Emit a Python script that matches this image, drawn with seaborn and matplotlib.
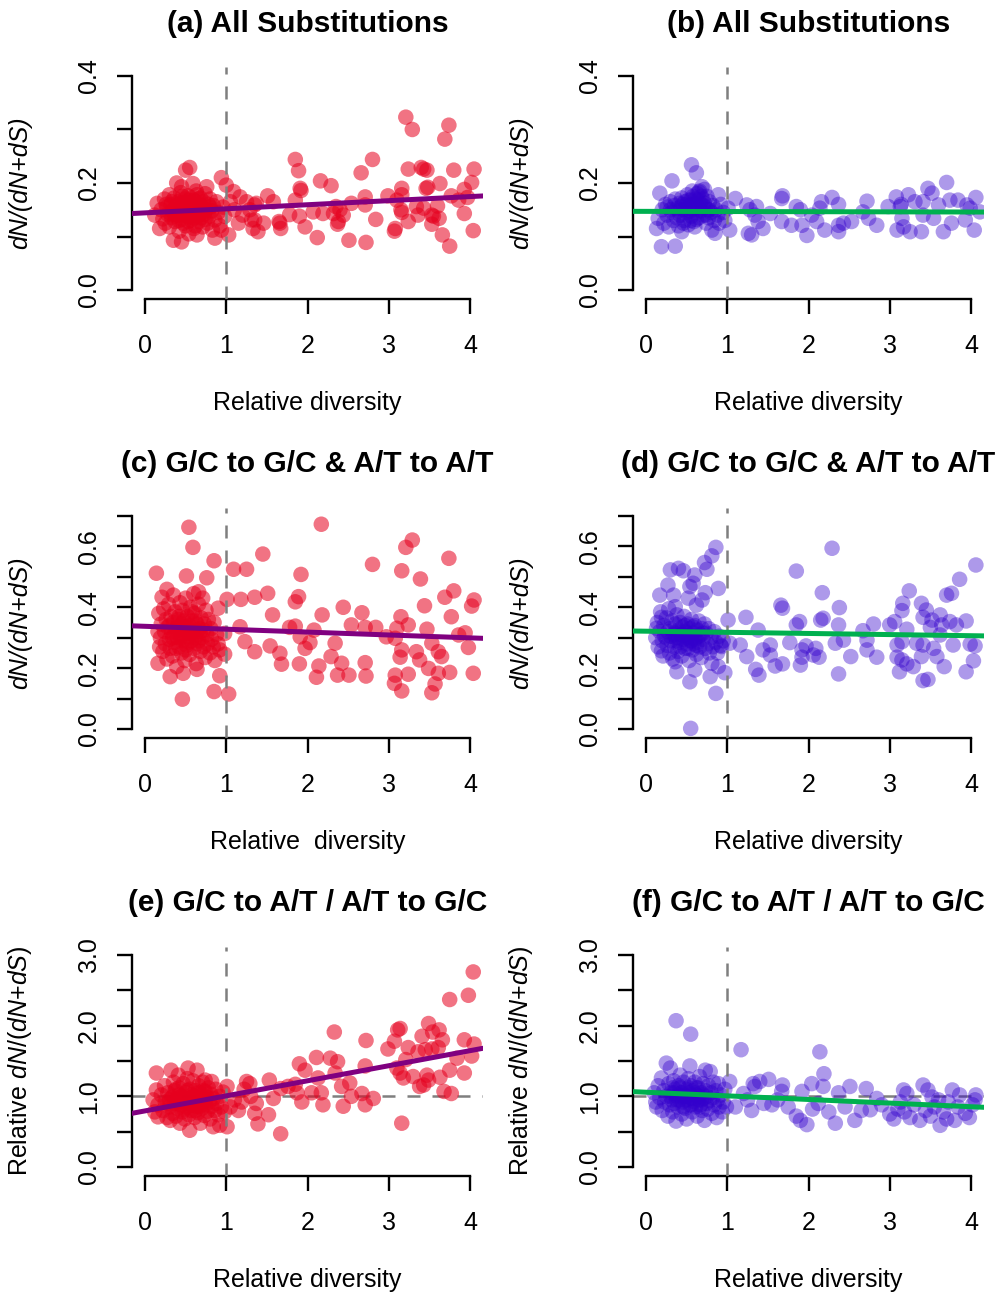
import matplotlib
matplotlib.use("Agg")
import matplotlib.pyplot as plt
import numpy as np
import pandas as pd
import seaborn as sns

sns.set_style("ticks")
plt.rcParams['font.family'] = ['Liberation Sans', 'DejaVu Sans']
plt.rcParams['mathtext.fontset'] = 'custom'
plt.rcParams['mathtext.rm'] = 'Liberation Sans'
plt.rcParams['mathtext.it'] = 'Liberation Sans:italic'
plt.rcParams['text.color'] = 'black'
plt.rcParams['axes.labelcolor'] = 'black'

# ---------------- data ----------------
titles = ["(a) All Substitutions", "(b) All Substitutions",
          "(c) G/C to G/C & A/T to A/T", "(d) G/C to G/C & A/T to A/T",
          "(e) G/C to A/T / A/T to G/C", "(f) G/C to A/T / A/T to G/C"]
xlabels = ["Relative diversity", "Relative diversity",
           "Relative  diversity", "Relative diversity",
           "Relative diversity", "Relative diversity"]
ylabels = ["dN/(dN+dS)", "dN/(dN+dS)", "dN/(dN+dS)", "dN/(dN+dS)",
           "Relative $\\mathit{dN/(dN{+}dS)}$", "Relative $\\mathit{dN/(dN{+}dS)}$"]
x_ticks = [0, 1, 2, 3, 4]
y_ticks_ab = [0.0, 0.1, 0.2, 0.3, 0.4]
y_labels_ab = ["0.0", "", "0.2", "", "0.4"]
y_ticks_cd = [0.0, 0.1, 0.2, 0.3, 0.4, 0.5, 0.6, 0.7]
y_labels_cd = ["0.0", "", "0.2", "", "0.4", "", "0.6", ""]
y_ticks_ef = [0.0, 0.5, 1.0, 1.5, 2.0, 2.5, 3.0]
y_labels_ef = ["0.0", "", "1.0", "", "2.0", "", "3.0"]
fit_intercepts = [0.1442, 0.147, 0.3375, 0.3214, 0.794, 1.058]
fit_slopes = [0.0076, -0.0003, -0.0095, -0.0037, 0.213, -0.0512]

a_pts = [
 (3.21,0.323),(3.29,0.300),(3.74,0.308),(3.69,0.282),(1.85,0.244),(1.89,0.223),(2.80,0.244),(2.66,0.219),
 (2.16,0.204),(2.29,0.195),(3.24,0.226),(3.40,0.229),(3.47,0.224),(3.43,0.226),(3.80,0.224),(4.05,0.226),
 (4.02,0.201),(3.63,0.199),(3.48,0.192),(3.46,0.190),(3.16,0.190),(3.93,0.188),(1.92,0.186),(1.91,0.190),
 (1.51,0.176),(1.58,0.165),(1.85,0.168),(1.37,0.162),(2.71,0.174),(2.71,0.159),(2.54,0.162),(2.99,0.176),
 (3.10,0.168),(3.16,0.178),(3.77,0.176),(3.86,0.168),(3.97,0.173),(2.35,0.156),(2.40,0.150),(2.07,0.146),
 (2.19,0.143),(2.44,0.140),(1.78,0.141),(1.90,0.138),(1.66,0.125),(1.65,0.128),(1.67,0.115),(1.39,0.109),
 (1.46,0.125),(1.97,0.118),(2.37,0.123),(2.38,0.128),(2.84,0.132),(3.15,0.150),(3.16,0.145),(3.34,0.156),
 (3.43,0.153),(3.60,0.157),(3.36,0.140),(3.53,0.140),(3.55,0.138),(3.62,0.134),(3.93,0.143),(3.24,0.128),
 (3.53,0.123),(3.08,0.115),(3.07,0.110),(2.12,0.098),(2.51,0.093),(2.72,0.089),(3.66,0.103),(3.75,0.082),
 (4.04,0.111),(1.29,0.150),(1.31,0.131),(2.32,0.143),
 (1.00,0.196),(1.03,0.103),(1.09,0.184),(1.17,0.174),(1.25,0.165),(1.35,0.159),(1.35,0.131),(1.33,0.115),
 (1.10,0.150),(1.20,0.140),(1.05,0.165),(1.15,0.125),
 (0.12,0.140),(0.15,0.162),(0.18,0.115),(0.20,0.150),(0.22,0.133),(0.24,0.170),(0.25,0.125),(0.27,0.155),
 (0.28,0.142),(0.30,0.178),(0.30,0.118),(0.32,0.160),(0.33,0.135),(0.34,0.148),(0.35,0.093),(0.36,0.172),
 (0.37,0.128),(0.38,0.156),(0.39,0.200),(0.40,0.140),(0.41,0.165),(0.42,0.110),(0.43,0.150),(0.44,0.182),
 (0.45,0.193),(0.45,0.090),(0.46,0.132),(0.47,0.158),(0.48,0.145),(0.49,0.170),(0.50,0.224),(0.50,0.120),
 (0.51,0.155),(0.52,0.138),(0.53,0.176),(0.54,0.105),(0.55,0.229),(0.55,0.150),(0.56,0.162),(0.57,0.130),
 (0.58,0.145),(0.59,0.199),(0.60,0.168),(0.60,0.115),(0.61,0.152),(0.62,0.140),(0.63,0.185),(0.64,0.103),
 (0.65,0.160),(0.66,0.128),(0.67,0.148),(0.68,0.172),(0.69,0.135),(0.70,0.155),(0.71,0.118),(0.72,0.165),
 (0.73,0.142),(0.74,0.180),(0.75,0.150),(0.76,0.193),(0.77,0.125),(0.78,0.160),(0.79,0.138),(0.80,0.170),
 (0.82,0.148),(0.83,0.112),(0.84,0.158),(0.86,0.131),(0.86,0.097),(0.88,0.165),(0.90,0.145),(0.92,0.120),
 (0.94,0.210),(0.94,0.112),(0.96,0.155),(0.98,0.138),
 (0.35,0.150),(0.40,0.160),(0.42,0.130),(0.48,0.165),(0.52,0.150),(0.58,0.158),(0.62,0.150),(0.65,0.140),
 (0.70,0.145),(0.38,0.138),(0.44,0.155),(0.56,0.142),(0.60,0.135),(0.66,0.170),(0.72,0.152),(0.30,0.145),
 (0.33,0.165),(0.46,0.175),(0.54,0.168),(0.64,0.178),(0.26,0.160),(0.50,0.140),(0.53,0.128),(0.57,0.172),
 (0.68,0.158),(0.74,0.132),(0.80,0.155),(0.36,0.142),(0.47,0.125),(0.62,0.120)]

b_pts = [
 (1.67,0.171),(1.68,0.176),(1.36,0.156),(1.28,0.150),(1.53,0.143),(1.38,0.128),(1.44,0.115),(1.67,0.128),
 (1.79,0.121),(1.85,0.156),(1.90,0.150),(1.92,0.121),(1.98,0.102),(2.04,0.140),(2.16,0.165),(2.29,0.173),
 (2.37,0.160),(2.14,0.153),(2.10,0.128),(2.20,0.112),(2.37,0.121),(2.43,0.125),(2.37,0.109),(2.53,0.128),
 (2.72,0.166),(2.67,0.146),(2.74,0.134),(2.84,0.121),(2.98,0.156),(3.08,0.174),(3.13,0.156),(3.14,0.160),
 (3.23,0.178),(3.31,0.165),(3.15,0.134),(3.09,0.112),(3.17,0.118),(3.25,0.109),(3.39,0.109),(3.41,0.165),
 (3.41,0.140),(3.47,0.190),(3.52,0.181),(3.54,0.134),(3.60,0.159),(3.70,0.201),(3.66,0.109),(3.74,0.168),
 (3.76,0.125),(3.84,0.168),(3.95,0.159),(3.99,0.153),(3.93,0.131),(4.06,0.173),(4.04,0.112),(4.11,0.146),
 (1.30,0.103),(1.10,0.171),(1.01,0.153),(1.03,0.112),(1.24,0.159),(1.26,0.106),(1.34,0.140),(0.89,0.178),
 (0.85,0.106),
 (0.13,0.115),(0.15,0.134),(0.17,0.181),(0.19,0.081),(0.20,0.150),(0.22,0.125),(0.24,0.160),(0.26,0.140),
 (0.28,0.118),(0.30,0.165),(0.32,0.204),(0.32,0.145),(0.34,0.130),(0.36,0.082),(0.36,0.170),(0.38,0.152),
 (0.40,0.120),(0.41,0.162),(0.42,0.140),(0.44,0.109),(0.44,0.172),(0.46,0.150),(0.47,0.130),(0.48,0.165),
 (0.50,0.145),(0.51,0.178),(0.52,0.122),(0.53,0.158),(0.55,0.168),(0.56,0.234),(0.56,0.138),(0.57,0.150),
 (0.58,0.175),(0.59,0.128),(0.60,0.118),(0.60,0.160),(0.62,0.219),(0.62,0.145),(0.63,0.180),(0.64,0.155),
 (0.65,0.135),(0.66,0.185),(0.67,0.162),(0.68,0.148),(0.69,0.193),(0.70,0.170),(0.71,0.140),(0.72,0.188),
 (0.73,0.155),(0.74,0.125),(0.75,0.175),(0.76,0.150),(0.77,0.135),(0.78,0.165),(0.80,0.145),(0.81,0.112),
 (0.82,0.158),(0.84,0.130),(0.86,0.150),(0.88,0.140),(0.90,0.125),(0.92,0.160),(0.95,0.145),(0.97,0.130),
 (0.35,0.158),(0.40,0.148),(0.45,0.160),(0.50,0.160),(0.54,0.148),(0.58,0.160),(0.61,0.170),(0.64,0.168),
 (0.66,0.150),(0.70,0.158),(0.48,0.150),(0.52,0.168),(0.43,0.155),(0.38,0.135),(0.46,0.125),(0.55,0.130),
 (0.62,0.132),(0.68,0.175),(0.72,0.162),(0.30,0.150),(0.26,0.155),(0.57,0.185),(0.65,0.183),(0.74,0.140),
 (0.78,0.150)]

c_pts = [
 (0.54,0.663),(0.59,0.597),(0.85,0.553),(0.14,0.512),(0.51,0.503),(0.76,0.497),(1.09,0.525),(1.25,0.525),
 (0.27,0.459),(0.21,0.433),(0.66,0.451),(1.01,0.426),(1.18,0.426),(1.35,0.433),(0.90,0.397),(0.16,0.320),
 (0.98,0.314),(1.17,0.336),(1.23,0.287),(1.35,0.254),(0.98,0.246),(0.18,0.270),(0.16,0.216),(0.31,0.172),
 (0.47,0.183),(0.64,0.196),(0.92,0.175),(0.85,0.123),(1.03,0.115),(0.46,0.098),
 (2.17,0.673),(1.45,0.575),(1.92,0.508),(2.80,0.541),(3.21,0.597),(3.29,0.621),(3.16,0.520),(3.39,0.493),
 (3.74,0.561),(1.51,0.446),(1.89,0.435),(1.85,0.418),(1.57,0.375),(2.18,0.375),(2.44,0.400),(2.67,0.382),
 (3.44,0.405),(3.69,0.433),(3.80,0.454),(4.05,0.424),(4.02,0.404),(3.77,0.369),(3.15,0.369),(3.24,0.342),
 (3.10,0.331),(2.54,0.342),(2.71,0.334),(2.84,0.334),(2.97,0.303),(3.08,0.298),(2.08,0.325),(1.78,0.334),
 (1.85,0.338),(1.91,0.303),(2.03,0.284),(1.97,0.265),(2.34,0.282),(2.29,0.238),(1.54,0.273),(1.66,0.249),
 (1.68,0.213),(1.90,0.214),(2.14,0.207),(2.11,0.170),(2.37,0.177),(2.42,0.216),(2.51,0.177),(2.71,0.218),
 (2.72,0.174),(3.16,0.260),(3.14,0.236),(3.34,0.254),(3.38,0.227),(3.47,0.328),(3.53,0.282),(3.61,0.254),
 (3.65,0.238),(3.49,0.199),(3.61,0.183),(3.75,0.186),(3.86,0.309),(3.94,0.316),(3.98,0.268),(4.04,0.183),
 (3.08,0.177),(3.07,0.150),(3.24,0.180),(3.16,0.125),(3.57,0.148),(3.53,0.119),
 (0.17,0.380),(0.19,0.300),(0.20,0.345),(0.22,0.255),(0.23,0.395),(0.24,0.320),(0.25,0.280),(0.26,0.360),
 (0.27,0.230),(0.28,0.335),(0.29,0.410),(0.30,0.295),(0.31,0.265),(0.32,0.370),(0.33,0.315),(0.34,0.240),
 (0.35,0.350),(0.35,0.440),(0.36,0.285),(0.37,0.385),(0.38,0.330),(0.39,0.205),(0.40,0.300),(0.41,0.360),
 (0.42,0.270),(0.43,0.415),(0.44,0.340),(0.45,0.250),(0.45,0.310),(0.46,0.390),(0.47,0.290),(0.48,0.355),
 (0.49,0.225),(0.50,0.325),(0.50,0.430),(0.51,0.275),(0.52,0.370),(0.53,0.305),(0.54,0.340),(0.55,0.245),
 (0.56,0.400),(0.57,0.290),(0.58,0.355),(0.59,0.320),(0.60,0.265),(0.60,0.445),(0.61,0.380),(0.62,0.300),
 (0.63,0.215),(0.64,0.345),(0.65,0.280),(0.66,0.410),(0.67,0.330),(0.68,0.255),(0.69,0.365),(0.70,0.300),
 (0.71,0.430),(0.72,0.270),(0.73,0.345),(0.74,0.235),(0.75,0.390),(0.76,0.310),(0.77,0.280),(0.78,0.360),
 (0.80,0.250),(0.81,0.330),(0.82,0.295),(0.84,0.270),(0.85,0.350),(0.86,0.225),(0.88,0.310),(0.90,0.280),
 (0.92,0.260),
 (0.30,0.340),(0.36,0.320),(0.40,0.335),(0.44,0.300),(0.48,0.320),(0.52,0.335),(0.56,0.315),(0.60,0.330),
 (0.64,0.310),(0.68,0.320),(0.42,0.370),(0.58,0.385),(0.34,0.300),(0.46,0.345),(0.54,0.285),(0.62,0.355),
 (0.38,0.265),(0.50,0.260),(0.66,0.290),(0.72,0.325)]

d_pts = [
 (0.86,0.597),(0.81,0.569),(0.72,0.547),(0.75,0.525),(0.30,0.523),(0.40,0.528),(0.46,0.520),(0.60,0.506),
 (0.58,0.479),(0.54,0.468),(0.27,0.473),(0.17,0.440),(0.34,0.440),(0.89,0.462),(0.73,0.448),(0.52,0.430),
 (0.69,0.424),(0.62,0.407),(0.36,0.402),(0.19,0.367),(1.01,0.358),(1.23,0.367),(0.13,0.331),(0.19,0.257),
 (0.36,0.221),(0.38,0.188),(0.60,0.194),(0.54,0.155),(0.79,0.172),(0.86,0.117),(0.97,0.185),(0.55,0.002),
 (0.93,0.271),(1.03,0.282),(1.16,0.276),(1.24,0.238),(1.35,0.196),(1.39,0.177),(0.81,0.216),(0.89,0.205),
 (2.29,0.594),(1.85,0.519),(4.06,0.539),(3.86,0.492),(2.17,0.448),(3.24,0.454),(3.70,0.440),(3.76,0.446),
 (1.66,0.407),(1.68,0.397),(2.38,0.399),(3.16,0.413),(3.15,0.389),(3.39,0.413),(3.45,0.391),(3.41,0.367),
 (3.62,0.375),(3.52,0.358),(3.74,0.353),(3.94,0.355),(3.82,0.342),(3.64,0.342),(3.50,0.334),(3.62,0.309),
 (1.89,0.353),(1.85,0.342),(2.18,0.364),(2.15,0.358),(2.37,0.342),(2.80,0.345),(3.00,0.342),(3.06,0.353),
 (3.21,0.328),(2.67,0.323),(1.38,0.325),(1.77,0.284),(2.43,0.292),(2.33,0.282),(2.72,0.292),(2.72,0.260),
 (3.09,0.276),(3.15,0.287),(3.33,0.282),(3.41,0.276),(3.54,0.265),(3.78,0.276),(3.99,0.279),(4.05,0.273),
 (1.53,0.276),(1.44,0.260),(1.97,0.273),(2.09,0.265),(1.92,0.260),(1.92,0.236),(2.06,0.243),(2.13,0.236),
 (1.53,0.243),(1.68,0.214),(1.59,0.207),(1.90,0.210),(2.52,0.238),(2.84,0.236),(3.09,0.236),(3.15,0.227),
 (3.21,0.214),(3.29,0.205),(3.39,0.238),(3.58,0.238),(3.67,0.205),(4.03,0.224),(3.94,0.188),(3.12,0.188),
 (3.41,0.159),(3.47,0.163),(2.37,0.181),
 (0.12,0.300),(0.14,0.350),(0.15,0.270),(0.17,0.320),(0.18,0.385),(0.20,0.290),(0.21,0.240),(0.22,0.340),
 (0.23,0.305),(0.25,0.365),(0.26,0.275),(0.27,0.320),(0.28,0.395),(0.29,0.250),(0.30,0.330),(0.31,0.290),
 (0.32,0.355),(0.33,0.230),(0.34,0.310),(0.35,0.270),(0.36,0.345),(0.37,0.300),(0.38,0.375),(0.39,0.255),
 (0.40,0.325),(0.41,0.285),(0.42,0.350),(0.43,0.310),(0.44,0.240),(0.45,0.335),(0.46,0.295),(0.47,0.370),
 (0.48,0.265),(0.49,0.320),(0.50,0.280),(0.51,0.345),(0.52,0.305),(0.53,0.225),(0.54,0.330),(0.55,0.290),
 (0.56,0.360),(0.57,0.260),(0.58,0.315),(0.59,0.280),(0.60,0.340),(0.61,0.300),(0.62,0.245),(0.63,0.325),
 (0.64,0.285),(0.65,0.355),(0.66,0.270),(0.67,0.310),(0.68,0.235),(0.69,0.330),(0.70,0.295),(0.72,0.345),
 (0.73,0.265),(0.74,0.315),(0.76,0.280),(0.77,0.330),(0.78,0.250),(0.80,0.300),(0.82,0.270),(0.84,0.320),
 (0.86,0.285),(0.88,0.250),(0.90,0.305),(0.92,0.275),(0.95,0.290),
 (0.30,0.305),(0.35,0.315),(0.40,0.300),(0.45,0.310),(0.50,0.300),(0.55,0.310),(0.60,0.295),(0.65,0.305),
 (0.38,0.290),(0.48,0.340),(0.58,0.335),(0.42,0.270),(0.52,0.265),(0.62,0.275),(0.70,0.315),(0.25,0.300),
 (0.46,0.320),(0.56,0.290)]

e_pts = [
 (0.14,1.33),(0.32,1.37),(0.53,1.40),(0.64,1.37),(0.41,1.30),(0.74,1.23),(0.82,1.21),(1.01,1.14),
 (1.25,1.21),(1.19,0.92),(1.35,0.76),(1.05,0.85),(0.92,0.59),(1.01,0.57),(0.55,0.52),(0.68,0.62),
 (0.16,0.71),(0.31,0.66),(0.14,1.09),(0.84,0.57),
 (4.04,2.76),(3.98,2.43),(3.75,2.37),(2.33,1.91),(3.14,1.96),(3.11,1.94),(3.49,2.03),(3.54,1.91),
 (3.62,1.94),(3.41,1.85),(3.66,1.80),(2.72,1.79),(3.07,1.78),(2.99,1.67),(3.24,1.69),(3.36,1.63),
 (3.45,1.66),(3.53,1.67),(3.61,1.69),(3.93,1.80),(4.05,1.74),(4.02,1.57),(3.84,1.54),(3.75,1.37),
 (3.93,1.33),(3.21,1.52),(3.10,1.40),(3.14,1.33),(3.18,1.26),(3.30,1.28),(3.38,1.14),(3.47,1.30),
 (3.49,1.23),(3.63,1.27),(3.43,1.16),(3.68,1.07),(3.77,1.04),(3.16,0.62),(1.90,1.46),(1.97,1.37),
 (2.11,1.55),(2.28,1.54),(2.37,1.49),(2.71,1.43),(2.13,1.26),(2.52,1.19),(2.42,1.14),(2.34,1.33),
 (1.85,1.17),(1.76,1.14),(1.67,1.11),(1.53,1.23),(1.87,1.05),(2.05,1.05),(2.17,1.05),(1.93,0.92),
 (2.19,0.88),(2.44,0.86),(2.54,1.00),(2.67,1.04),(2.71,0.88),(2.81,0.97),(1.58,0.97),(1.52,0.74),
 (1.39,0.61),(1.67,0.47),(1.37,0.90),(1.29,1.18),(1.30,1.00),(1.22,1.10),
 (0.10,0.95),(0.12,0.78),(0.16,0.88),(0.20,1.02),(0.22,0.80),(0.24,1.15),(0.25,0.92),(0.27,0.70),
 (0.28,1.05),(0.30,0.85),(0.33,0.98),(0.34,0.76),(0.35,1.20),(0.36,0.90),(0.37,1.08),(0.38,0.72),
 (0.39,0.95),(0.40,0.83),(0.42,1.12),(0.43,0.62),(0.44,0.88),(0.45,1.00),(0.46,0.78),(0.47,1.18),
 (0.48,0.93),(0.49,0.68),(0.50,1.05),(0.51,0.85),(0.52,1.25),(0.53,0.97),(0.54,0.74),(0.55,1.10),
 (0.56,0.89),(0.57,0.80),(0.58,1.02),(0.59,1.22),(0.60,0.94),(0.61,0.70),(0.62,1.08),(0.63,0.86),
 (0.64,0.98),(0.65,0.77),(0.66,1.15),(0.67,0.91),(0.69,1.04),(0.70,0.83),(0.71,1.20),(0.72,0.95),
 (0.73,0.73),(0.74,1.07),(0.75,0.88),(0.76,0.99),(0.77,0.79),(0.78,1.12),(0.79,0.92),(0.80,0.68),
 (0.81,1.03),(0.82,0.86),(0.84,0.97),(0.86,0.80),(0.87,1.10),(0.88,0.90),(0.90,0.74),(0.92,1.00),
 (0.94,0.85),(0.96,1.06),(0.98,0.78),(1.10,0.95),(1.15,0.80),
 (0.30,0.95),(0.35,1.00),(0.40,0.92),(0.45,0.95),(0.50,0.90),(0.55,0.98),(0.60,1.00),(0.65,0.95),
 (0.70,0.97),(0.75,0.95),(0.42,1.02),(0.48,0.82),(0.58,0.88),(0.62,0.80),(0.68,0.86),(0.38,1.10),
 (0.52,1.08),(0.66,1.05),(0.28,0.90),(0.72,1.08)]

f_pts = [
 (0.37,2.07),(0.55,1.88),(0.89,1.18),(0.13,0.85),
 (1.17,1.66),(1.03,1.21),(1.32,1.18),(1.20,1.04),(1.34,1.14),(1.40,1.21),(1.51,1.24),(1.68,1.16),
 (1.67,1.07),(1.92,1.07),(2.04,1.18),(2.18,1.14),(2.19,1.32),(2.14,1.63),(2.37,1.05),(2.51,1.14),
 (2.71,1.11),(2.84,0.97),(3.17,1.09),(3.21,1.04),(3.41,1.16),(3.47,1.09),(3.52,0.99),(3.60,0.95),
 (3.77,1.09),(3.86,1.02),(4.06,1.02),(4.05,0.95),(3.72,0.92),(3.13,0.92),
 (1.10,0.85),(1.25,0.95),(1.30,0.80),(1.45,0.90),(1.55,0.88),(1.62,0.95),(1.75,0.85),(1.85,0.72),
 (1.90,0.66),(1.98,0.60),(2.05,0.82),(2.12,0.90),(2.25,0.78),(2.33,0.62),(2.45,0.85),(2.57,0.66),
 (2.65,0.80),(2.76,0.81),(2.90,0.88),(3.00,0.75),(3.05,0.68),(3.10,0.82),(3.18,0.78),(3.25,0.70),
 (3.30,0.88),(3.37,0.66),(3.44,0.80),(3.50,0.72),(3.55,0.85),(3.62,0.59),(3.66,0.78),(3.70,0.68),
 (3.80,0.66),(3.84,0.85),(3.93,0.76),(3.98,0.70),(4.02,0.88),
 (0.10,1.05),(0.12,0.92),(0.15,1.15),(0.17,0.98),(0.19,1.26),(0.20,0.80),(0.22,1.08),(0.23,0.92),
 (0.25,1.47),(0.25,1.00),(0.27,0.72),(0.28,1.18),(0.29,0.88),(0.30,1.40),(0.31,1.05),(0.32,0.95),
 (0.33,0.78),(0.34,1.22),(0.35,0.90),(0.36,1.10),(0.37,0.65),(0.38,1.00),(0.39,0.85),(0.40,1.15),
 (0.41,0.95),(0.42,1.30),(0.43,1.05),(0.44,0.75),(0.45,0.92),(0.46,1.20),(0.47,1.00),(0.48,0.83),
 (0.49,1.10),(0.50,0.68),(0.51,0.95),(0.52,1.25),(0.53,1.05),(0.54,1.43),(0.54,0.88),(0.55,1.15),
 (0.56,0.98),(0.57,0.78),(0.58,1.08),(0.59,0.93),(0.60,1.20),(0.61,0.85),(0.62,1.02),(0.63,0.72),
 (0.64,1.12),(0.65,0.95),(0.66,1.28),(0.67,0.88),(0.68,1.05),(0.69,0.80),(0.70,1.18),(0.71,0.97),
 (0.72,0.66),(0.73,1.37),(0.73,1.08),(0.74,0.90),(0.75,1.00),(0.76,0.82),(0.77,1.15),(0.78,0.94),
 (0.79,1.35),(0.80,1.05),(0.81,0.76),(0.82,0.98),(0.83,1.20),(0.84,0.88),(0.86,1.08),(0.87,0.70),
 (0.88,0.95),(0.90,0.85),(0.92,1.02),(0.94,0.78),(0.95,0.92),(0.97,1.10),(0.99,0.85),
 (0.30,1.00),(0.35,1.05),(0.40,1.02),(0.45,1.05),(0.50,1.00),(0.55,1.02),(0.60,1.05),(0.65,1.00),
 (0.70,1.02),(0.38,0.95),(0.48,0.95),(0.58,0.97),(0.68,0.95),(0.42,1.12),(0.52,1.12),(0.62,1.12),
 (0.33,1.12),(0.46,0.85),(0.56,0.88),(0.66,0.85)]

# ---------------- styling / layout ----------------
RED, BLUE = "#E6001E", "#3300CC"
PURPLE, GREEN = "#800080", "#00B04F"
W, H = 1000, 1298
fig = plt.figure(figsize=(W / 100, H / 100), dpi=100)

col_left_px = [132, 633]
col_w_px = 351
row_top_px = [67.4, 507.5, 946.5]
row_bot_px = [298.6, 737.5, 1175.5]

all_pts = [a_pts, b_pts, c_pts, d_pts, e_pts, f_pts]
ylims = [(-0.016, 0.416), (-0.016, 0.416), (-0.028, 0.728), (-0.028, 0.728), (-0.12, 3.12), (-0.12, 3.12)]
yticks = [y_ticks_ab, y_ticks_ab, y_ticks_cd, y_ticks_cd, y_ticks_ef, y_ticks_ef]
yticklabels = [y_labels_ab, y_labels_ab, y_labels_cd, y_labels_cd, y_labels_ef, y_labels_ef]

for i in range(6):
    r, c = divmod(i, 2)
    top, bot = row_top_px[r], row_bot_px[r]
    hpx = bot - top
    ax = fig.add_axes([col_left_px[c] / W, 1 - bot / H, col_w_px / W, hpx / H])
    red = (c == 0)
    pcol = RED if red else BLUE
    alpha = 0.55 if red else 0.40
    lcol = PURPLE if red else GREEN

    if r == 2:
        ax.axhline(1.0, color="#7f7f7f", lw=1.8, dashes=(5.2, 4.8), zorder=1)

    df = pd.DataFrame(all_pts[i], columns=["x", "y"])
    sns.scatterplot(data=df, x="x", y="y", ax=ax, s=125, color=pcol, alpha=alpha,
                    linewidth=0, edgecolor="none", legend=False, zorder=2)

    ax.axvline(1.0, color="#7f7f7f", lw=1.8, dashes=(5.2, 4.8), zorder=3)
    ax.axline((0, fit_intercepts[i]), slope=fit_slopes[i], color=lcol, lw=3.6, zorder=4)

    ax.set_xlim(-0.16, 4.16)
    ax.set_ylim(*ylims[i])
    for s in ["top", "right"]:
        ax.spines[s].set_visible(False)
    for s in ["left", "bottom"]:
        ax.spines[s].set_linewidth(1.7)
        ax.spines[s].set_color("black")
    ax.spines["bottom"].set_bounds(0, 4)
    ax.spines["left"].set_bounds(yticks[i][0], yticks[i][-1])

    ax.set_xticks(x_ticks)
    ax.set_xticklabels([str(t) for t in x_ticks])
    ax.set_yticks(yticks[i])
    ax.set_yticklabels(yticklabels[i], rotation=90, va="center")
    ax.tick_params(axis="both", direction="out", length=10.8, width=1.7,
                   labelsize=18, color="black", labelcolor="black")
    ax.tick_params(axis="x", pad=15)
    ax.tick_params(axis="y", pad=11.5)

    ax.set_xlabel(xlabels[i], fontsize=18, color="black")
    ax.xaxis.set_label_coords(0.5, -104.5 / hpx)
    ax.xaxis.label.set_va("center")
    if i < 4:
        ax.set_ylabel(ylabels[i], fontsize=18, fontstyle="italic", color="black")
    else:
        ax.set_ylabel(ylabels[i], fontsize=18, color="black")
    ax.yaxis.set_label_coords(-112 / col_w_px, 0.5)
    ax.yaxis.label.set_va("center")
    ax.yaxis.label.set_ha("center")

    ax.text(0.5, 1 + 43.5 / hpx, titles[i], transform=ax.transAxes, ha="center",
            va="center", fontsize=21.5, fontweight="bold", color="black")

fig.savefig("out.png", dpi=100)
